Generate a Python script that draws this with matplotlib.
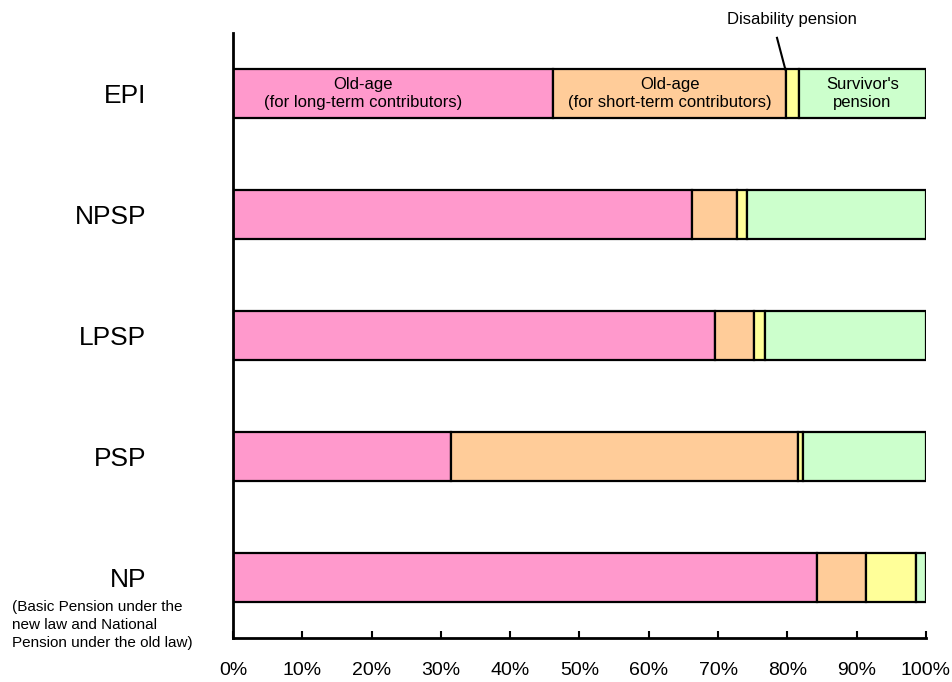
import numpy as np
import matplotlib.pyplot as plt

# share of each benefit type, by scheme (top to bottom)
schemes = ["EPI", "NPSP", "LPSP", "PSP", "NP"]
old_age_long = [46.2, 66.3, 69.5, 31.5, 84.2]
old_age_short = [33.6, 6.4, 5.7, 50.1, 7.2]
disability = [1.9, 1.4, 1.6, 0.6, 7.1]
survivor = [18.3, 25.9, 23.2, 17.8, 1.5]

xticks = np.arange(0, 101, 10)
xtick_labels = [f"{v}%" for v in xticks]

colors = ["#FF99CC", "#FFCC99", "#FFFF99", "#CCFFCC"]

plt.rcParams["font.family"] = ["Liberation Sans", "DejaVu Sans"]

fig = plt.figure(figsize=(9.53, 6.82), dpi=100)
ax = fig.add_axes([233 / 953, 44 / 682, 693 / 953, 605 / 682])

y = np.arange(len(schemes))
left = np.zeros(len(schemes))
for vals, c in zip([old_age_long, old_age_short, disability, survivor], colors):
    ax.barh(y, vals, left=left, height=0.4, color=c, edgecolor="black", linewidth=1.6)
    left += np.array(vals)

ax.set_xlim(0, 100)
ax.set_ylim(len(schemes) - 0.5, -0.5)
ax.set_yticks([])
ax.set_xticks(xticks)
ax.set_xticklabels(xtick_labels, fontsize=14)
ax.tick_params(axis="x", direction="in", length=5, width=1.5, pad=17)
for s in ["top", "right"]:
    ax.spines[s].set_visible(False)
for s in ["left", "bottom"]:
    ax.spines[s].set_linewidth(2)

# scheme names on the left
for i, name in enumerate(schemes):
    fig.text(146 / 953, 1 - (94 + 121 * i) / 682 - 0.003, name, ha="right", va="center",
             fontsize=19)
fig.text(12 / 953, 1 - 625 / 682, "(Basic Pension under the\nnew law and National\nPension under the old law)",
         ha="left", va="center", fontsize=11, linespacing=1.35)

# labels inside the EPI bar
ax.text(18.8, 0, "Old-age\n(for long-term contributors)", ha="center", va="center",
        fontsize=12, linespacing=1.25)
ax.text(old_age_long[0] + old_age_short[0] / 2, 0, "Old-age\n(for short-term contributors)",
        ha="center", va="center", fontsize=12, linespacing=1.25)
ax.text(100 - survivor[0] / 2, 0, "Survivor's\npension", ha="center", va="center",
        fontsize=12, linespacing=1.25)

# leader line for the thin disability segment
x_dis = old_age_long[0] + old_age_short[0]
ax.plot([x_dis - 1.3, x_dis - 0.1], [-0.46, -0.2], color="black", lw=1.5, clip_on=False)
ax.text(x_dis + 0.9, -0.61, "Disability pension", ha="center", va="center", fontsize=12)

fig.savefig("out.png", dpi=100)
